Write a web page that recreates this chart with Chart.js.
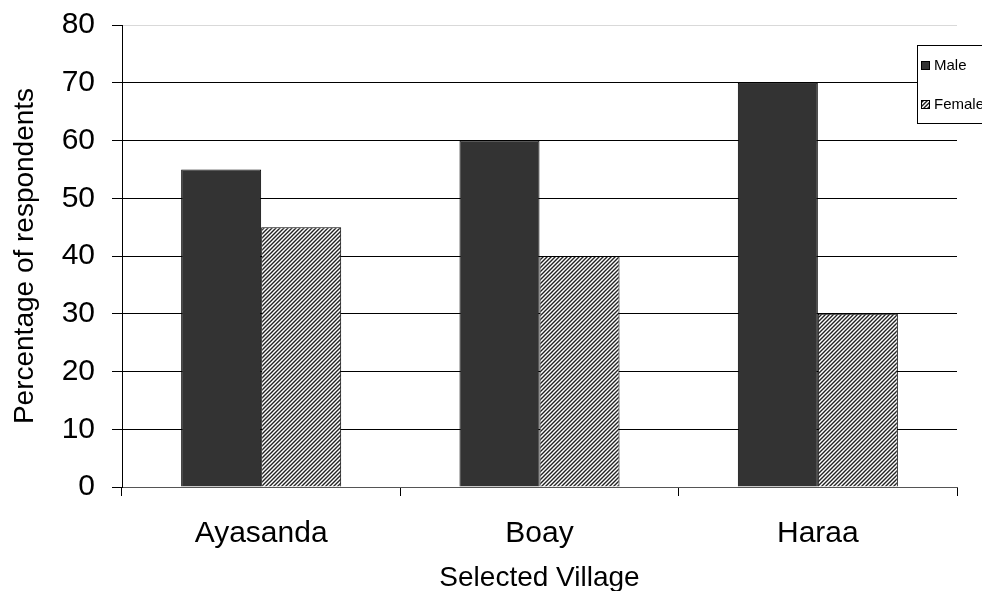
<!DOCTYPE html>
<html>
<head>
<meta charset="utf-8">
<script src="https://cdn.jsdelivr.net/npm/chart.js@4/dist/chart.umd.min.js"></script>
<style>
  html, body { margin: 0; padding: 0; background: #fff; }
  #wrap { width: 982px; height: 591px; }
</style>
</head>
<body>
<div id="wrap"><canvas id="chartCanvas" width="982" height="591"></canvas></div>
<script>
const villages = ['Ayasanda', 'Boay', 'Haraa'];
const maleData = [55, 60, 70];
const femaleData = [45, 40, 30];
const yTicks = [0, 10, 20, 30, 40, 50, 60, 70, 80];

const FONT = "'Liberation Sans', Arial, sans-serif";

// diagonal hatch for the Female bars
function makeHatch() {
  const c = document.createElement('canvas');
  c.width = 4; c.height = 4;
  const g = c.getContext('2d');
  g.fillStyle = '#fff';
  g.fillRect(0, 0, 4, 4);
  g.strokeStyle = '#222';
  g.lineWidth = 1.4;
  g.beginPath();
  g.moveTo(-1, 5); g.lineTo(5, -1);
  g.moveTo(-1, 1); g.lineTo(1, -1);
  g.moveTo(3, 5); g.lineTo(5, 3);
  g.stroke();
  return g.createPattern(c, 'repeat');
}

const ctx = document.getElementById('chartCanvas').getContext('2d');
const hatch = makeHatch();

// legend box drawn by hand, overlapping the right edge like the original
const boxLegend = {
  id: 'boxLegend',
  afterDraw(chart) {
    const c = chart.ctx;
    const x = 917, y = 45, w = 80, h = 78;
    c.save();
    c.fillStyle = '#fff';
    c.fillRect(x, y, w, h);
    c.strokeStyle = '#000';
    c.lineWidth = 1;
    c.strokeRect(x + 0.5, y + 0.5, w, h);
    c.font = '15px ' + FONT;
    c.textBaseline = 'middle';
    chart.data.datasets.forEach((ds, i) => {
      const cy = 65 + i * 39;
      c.fillStyle = ds.backgroundColor;
      c.fillRect(921, cy - 4, 9, 9);
      c.strokeStyle = '#000';
      c.strokeRect(921.5, cy - 3.5, 8, 8);
      c.fillStyle = '#000';
      c.fillText(ds.label, 934, cy + 1);
    });
    c.restore();
  }
};

const chart = new Chart(ctx, {
  type: 'bar',
  data: {
    labels: villages,
    datasets: [
      {
        label: 'Male',
        backgroundColor: '#333333',
        borderColor: '#000',
        borderWidth: 1,
        data: maleData
      },
      {
        label: 'Female',
        backgroundColor: hatch,
        borderColor: '#000',
        borderWidth: 1,
        data: femaleData
      }
    ]
  },
  options: {
    responsive: false,
    animation: false,
    devicePixelRatio: 1,
    layout: { padding: { top: 25, right: 25, left: 0, bottom: 0 } },
    datasets: { bar: { categoryPercentage: 0.575, barPercentage: 1.0 } },
    plugins: {
      legend: { display: false },
      tooltip: { enabled: false }
    },
    scales: {
      x: {
        grid: { display: true, drawOnChartArea: false, color: '#000', tickLength: 9, offset: true },
        border: { color: '#555', width: 1 },
        ticks: { color: '#000', font: { family: FONT, size: 30 }, padding: 20 },
        title: { display: true, text: 'Selected Village', color: '#000', font: { family: FONT, size: 28 }, padding: { top: 0, bottom: -4 } },
        afterFit(scale) { scale.height = 104; }
      },
      y: {
        min: 0,
        max: 80,
        afterBuildTicks(scale) { scale.ticks = yTicks.map(v => ({ value: v })); },
        grid: {
          color: ctx => ctx.tick && ctx.tick.value === 80 ? '#d9d9d9' : '#000',
          tickColor: '#000',
          tickLength: 10
        },
        border: { color: '#000', width: 1 },
        ticks: { color: '#000', font: { family: FONT, size: 30 }, padding: 17 },
        title: { display: true, text: 'Percentage of respondents', color: '#000', font: { family: FONT, size: 28 }, padding: { top: 8, bottom: 0 } },
        afterFit(scale) {
          scale.width = 122;
          scale.paddingTop = 0;
          scale.paddingBottom = 0;
        }
      }
    }
  },
  plugins: [boxLegend]
});
</script>
</body>
</html>
